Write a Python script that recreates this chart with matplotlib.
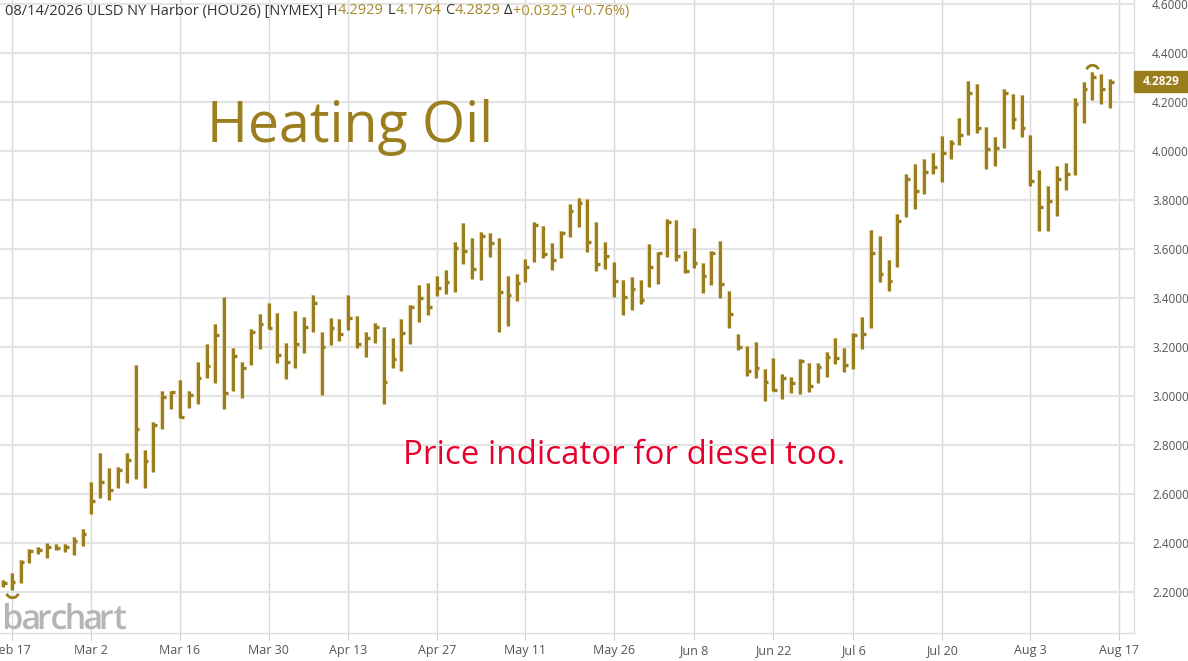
import numpy as np
import pandas as pd
import matplotlib
matplotlib.use('Agg')
import matplotlib.pyplot as plt
import matplotlib.patheffects as pe
from matplotlib.path import Path
from matplotlib.patches import Rectangle, PathPatch
from matplotlib.textpath import TextPath
from matplotlib.font_manager import FontProperties
from matplotlib.transforms import Affine2D

plt.rcParams['font.family'] = ['Open Sans', 'DejaVu Sans']

# trading days Feb 13 - Aug 14 2026 (NYMEX holidays dropped)
holidays = ['2026-02-16', '2026-04-03', '2026-05-25', '2026-06-19', '2026-07-03']
dates = pd.bdate_range('2026-02-13', '2026-08-17')
dates = dates[~dates.isin(pd.to_datetime(holidays))]

highs = [2.249, 2.276, 2.331, 2.374, 2.382, 2.401, 2.396, 2.396, 2.426, 2.456,
         2.648, 2.766, 2.705, 2.711, 2.766, 3.127, 2.780, 2.895, 3.020, 3.022,
         3.065, 3.022, 3.138, 3.211, 3.293, 3.405, 3.195, 3.138, 3.272, 3.333,
         3.381, 3.340, 3.215, 3.348, 3.324, 3.412, 3.262, 3.317, 3.314, 3.412,
         3.327, 3.260, 3.299, 3.280, 3.236, 3.313, 3.371, 3.453, 3.460, 3.490,
         3.514, 3.627, 3.707, 3.646, 3.668, 3.664, 3.644, 3.491, 3.499, 3.560,
         3.709, 3.694, 3.623, 3.673, 3.782, 3.807, 3.803, 3.711, 3.630, 3.546,
         3.472, 3.484, 3.473, 3.619, 3.589, 3.722, 3.718, 3.593, 3.687, 3.542,
         3.593, 3.633, 3.429, 3.253, 3.204, 3.219, 3.109, 3.156, 3.089, 3.076,
         3.150, 3.136, 3.136, 3.181, 3.235, 3.197, 3.258, 3.321, 3.678, 3.653,
         3.555, 3.743, 3.905, 3.946, 3.967, 3.991, 4.061, 4.045, 4.133, 4.287,
         4.272, 4.097, 4.058, 4.253, 4.231, 4.227, 4.064, 3.922, 3.857, 3.940,
         3.952, 4.215, 4.283, 4.321, 4.314, 4.2929]
lows = [2.222, 2.210, 2.236, 2.320, 2.355, 2.338, 2.371, 2.363, 2.351, 2.388,
        2.518, 2.585, 2.576, 2.623, 2.646, 2.660, 2.623, 2.691, 2.864, 2.945,
        2.909, 2.950, 2.966, 3.073, 3.052, 2.948, 3.019, 2.991, 3.125, 3.192,
        3.272, 3.136, 3.069, 3.116, 3.177, 3.262, 3.004, 3.208, 3.224, 3.269,
        3.195, 3.161, 3.215, 2.967, 3.113, 3.103, 3.212, 3.301, 3.330, 3.409,
        3.415, 3.426, 3.537, 3.478, 3.473, 3.569, 3.262, 3.287, 3.389, 3.464,
        3.547, 3.562, 3.514, 3.563, 3.650, 3.691, 3.589, 3.511, 3.518, 3.405,
        3.331, 3.351, 3.376, 3.444, 3.457, 3.566, 3.551, 3.501, 3.521, 3.419,
        3.453, 3.399, 3.276, 3.188, 3.082, 3.075, 2.980, 3.022, 2.988, 3.013,
        3.008, 3.018, 3.052, 3.076, 3.129, 3.097, 3.110, 3.192, 3.276, 3.467,
        3.429, 3.528, 3.729, 3.764, 3.824, 3.905, 3.875, 3.969, 4.024, 4.065,
        4.072, 3.925, 3.939, 4.013, 4.090, 4.056, 3.857, 3.675, 3.675, 3.735,
        3.841, 3.902, 4.116, 4.210, 4.191, 4.1764]
closes = [2.236, 2.242, 2.324, 2.369, 2.371, 2.382, 2.378, 2.385, 2.408, 2.437,
          2.570, 2.650, 2.616, 2.698, 2.739, 2.864, 2.736, 2.882, 2.997, 3.015,
          2.916, 3.004, 3.075, 3.124, 3.249, 3.013, 3.165, 3.116, 3.260, 3.294,
          3.276, 3.167, 3.140, 3.212, 3.280, 3.378, 3.199, 3.279, 3.252, 3.317,
          3.211, 3.238, 3.283, 3.056, 3.151, 3.258, 3.362, 3.401, 3.365, 3.442,
          3.467, 3.603, 3.592, 3.518, 3.653, 3.623, 3.426, 3.412, 3.460, 3.528,
          3.698, 3.580, 3.555, 3.667, 3.755, 3.789, 3.627, 3.537, 3.573, 3.471,
          3.403, 3.437, 3.392, 3.525, 3.582, 3.711, 3.571, 3.510, 3.542, 3.490,
          3.585, 3.456, 3.333, 3.201, 3.103, 3.113, 3.058, 3.024, 3.072, 3.054,
          3.144, 3.041, 3.117, 3.161, 3.156, 3.125, 3.249, 3.252, 3.582, 3.498,
          3.471, 3.716, 3.884, 3.838, 3.913, 3.936, 3.993, 4.031, 4.065, 4.235,
          4.093, 4.007, 4.011, 4.235, 4.129, 4.095, 3.878, 3.770, 3.797, 3.884,
          3.905, 4.192, 4.253, 4.303, 4.252, 4.2829]

tick_dates = ['2026-02-17', '2026-03-02', '2026-03-16', '2026-03-30', '2026-04-13',
              '2026-04-27', '2026-05-11', '2026-05-26', '2026-06-08', '2026-06-22',
              '2026-07-06', '2026-07-20', '2026-08-03', '2026-08-17']
y_ticks = [2.2, 2.4, 2.6, 2.8, 3.0, 3.2, 3.4, 3.6, 3.8, 4.0, 4.2, 4.4, 4.6]

GOLD = '#9a7d1c'
HALO = '#e9dfb8'
W, H = 1188, 661

fig = plt.figure(figsize=(W / 100, H / 100), dpi=100)
ax = fig.add_axes([0, 28 / H, 1134 / W, 1 - 28 / H])

n = len(closes)
idx = np.arange(n)
halo = [pe.Stroke(linewidth=3.2, foreground=HALO), pe.Normal()]
ax.vlines(idx, lows, highs, color=GOLD, linewidth=2.2, zorder=3, path_effects=halo)
ax.hlines(closes, idx, idx + 0.42, color=GOLD, linewidth=2.4, zorder=3)

# high / low markers
i_lo = int(np.argmin(lows))
i_hi = int(np.argmax(highs))
ax.plot(i_lo, lows[i_lo] - 0.004, marker=Path.arc(200, 340), markersize=9,
        mfc='none', mec=GOLD, mew=2, zorder=4)
ax.plot(i_hi, highs[i_hi] + 0.004, marker=Path.arc(20, 160), markersize=9,
        mfc='none', mec=GOLD, mew=2, zorder=4)

ax.set_xlim(-0.32, 127.7)
ax.set_ylim(4.4 - 580 / 245, 4.4 + 53 / 245)

pos = [dates.get_loc(pd.Timestamp(d)) for d in tick_dates]
labels = [pd.Timestamp(d).strftime('%b %-d') for d in tick_dates]
ax.set_xticks(pos)
ax.set_xticklabels(labels, fontsize=9, color='#555555')
ax.tick_params(axis='x', length=5, color='#cccccc', pad=3)

ax.yaxis.tick_right()
ax.set_yticks(y_ticks)
ax.set_yticklabels([f'{v:.4f}' for v in y_ticks], fontsize=8.5, color='#555555')
ax.tick_params(axis='y', length=0, pad=13)

ax.grid(axis='y', color='#e4e4e4', linewidth=1.6)
ax.grid(axis='x', color='#d8d8d8', linewidth=1)
ax.set_axisbelow(True)
for s in ['top', 'left']:
    ax.spines[s].set_visible(False)
for s in ['bottom', 'right']:
    ax.spines[s].set_color('#dddddd')
    ax.spines[s].set_linewidth(1)

# last price box
last = closes[-1]
box_h = 21 / 245
ax.add_patch(Rectangle((1.0, last - box_h / 2), 54 / 1134, box_h,
                       transform=ax.get_yaxis_transform(), color=GOLD,
                       clip_on=False, zorder=5))
ax.text(1.0 + 27 / 1134, last, f'{last:.4f}', transform=ax.get_yaxis_transform(),
        ha='center', va='center', color='white', fontsize=8.5, fontweight='bold',
        zorder=6, clip_on=False)

# header line with coloured values
pieces = [('08/14/2026 ULSD NY Harbor (HOU26) [NYMEX] H', '#333333'),
          ('4.2929', '#a8892a'), (' L', '#333333'), ('4.1764', '#a8892a'),
          (' C', '#333333'), ('4.2829', '#a8892a'), (' \u0394', '#333333'),
          ('+0.0323 (+0.76%)', '#a8892a')]
renderer = fig.canvas.get_renderer()
x_px = 5
for txt, col in pieces:
    lead = len(txt) - len(txt.lstrip(' '))
    if lead:
        x_px += 4 * lead
    t = fig.text(x_px / W, 1 - 11 / H, txt.lstrip(' '), color=col, fontsize=10.5,
                 ha='left', va='center')
    x_px += t.get_window_extent(renderer).width

fig.text(207 / W, 1 - 128 / H, 'Heating Oil', color='#9b7f1f', fontsize=40,
         ha='left', va='center')
fig.text(403 / W, 1 - 456 / H, 'Price indicator for diesel too.', color='#e8002c',
         fontsize=23.8, ha='left', va='center')

# barchart watermark: tightly spaced letters fitted to its box in pixels
prop = FontProperties(family='Open Sans', weight='semibold')
verts, codes = [], []
cursor = 0.0
for ch in 'barchart':
    cp = TextPath((0, 0), ch, size=36, prop=prop)
    ce = cp.get_extents()
    moved = Affine2D().translate(cursor - ce.x0, 0).transform_path(cp)
    verts.append(moved.vertices)
    codes.append(moved.codes)
    cursor += ce.width + 1.2
wm_path = Path(np.concatenate(verts), np.concatenate(codes))
ext = wm_path.get_extents()
sx = (126 - 5) / ext.width
sy = (629 - 603) / ext.y1
wm = Affine2D().translate(-ext.x0, 0).scale(sx, sy).translate(5, H - 629)
fig.add_artist(PathPatch(wm.transform_path(wm_path), color='#b5b5b5', lw=0,
                         transform=None, zorder=2))

fig.savefig('out.png', dpi=100)
